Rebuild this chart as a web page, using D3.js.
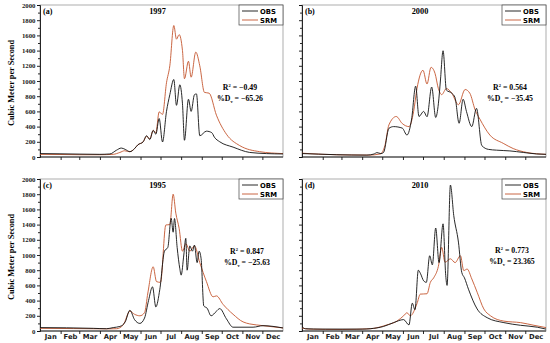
<!DOCTYPE html>
<html>
<head>
<meta charset="utf-8">
<script src="https://cdn.jsdelivr.net/npm/d3@7"></script>
<style>
  body { margin: 0; background: white; }
  .serif { font-family: "Liberation Serif", "Times New Roman", serif; font-weight: bold; }
  .sans { font-family: "DejaVu Sans", Verdana, sans-serif; font-weight: bold; }
</style>
</head>
<body>
<div id="chart"></div>
<script>
// month labels and lengths
const months = ["Jan", "Feb", "Mar", "Apr", "May", "Jun", "Jul", "Aug", "Sep", "Oct", "Nov", "Dec"];
const monthDays = [31, 28, 31, 30, 31, 30, 31, 31, 30, 31, 30, 31];
const yTicks = [0, 200, 400, 600, 800, 1000, 1200, 1400, 1600, 1800, 2000];

// [day of year, m3/s]
const obs1997 = [[0,45],[30,42],[60,38],[90,35],[105,40],[115,90],[122,118],[128,100],[135,70],[142,110],[147,160],[155,200],[160,280],[165,230],[170,350],[174,300],[179,506],[184,198],[190,600],[195,820],[201,1020],[205,680],[210,950],[214,700],[217,220],[223,760],[227,600],[232,820],[235,830],[240,280],[250,340],[258,320],[262,260],[270,200],[290,130],[315,60],[340,45],[365,40]];
const srm1997 = [[0,35],[30,33],[60,30],[90,30],[110,35],[120,60],[127,82],[135,70],[142,110],[147,160],[155,200],[160,270],[165,240],[170,350],[174,320],[179,594],[184,560],[190,977],[195,1200],[201,1730],[205,1550],[209,1610],[214,1400],[217,1030],[223,1260],[227,1050],[234,1380],[240,1200],[247,850],[254,840],[265,550],[280,300],[300,150],[330,70],[365,45]];

const obs2000 = [[0,45],[25,38],[52,30],[97,25],[108,40],[112,58],[118,45],[122,60],[130,377],[137,400],[150,380],[157,289],[164,500],[170,932],[175,533],[182,600],[187,530],[194,920],[200,520],[204,700],[207,1000],[211,1398],[216,880],[224,840],[229,780],[235,444],[241,760],[246,600],[254,400],[261,640],[269,150],[279,100],[291,90],[311,80],[331,60],[351,40],[365,35]];
const srm2000 = [[0,50],[30,35],[60,28],[100,25],[117,40],[124,150],[130,422],[141,533],[150,440],[160,400],[167,600],[172,900],[181,1141],[187,960],[193,1180],[199,1100],[204,900],[209,821],[216,900],[224,840],[234,688],[244,888],[251,840],[259,620],[266,500],[281,289],[301,180],[316,111],[336,60],[365,35]];

const obs1995 = [[0,45],[40,42],[80,35],[100,30],[110,45],[120,60],[128,120],[135,273],[142,150],[150,100],[157,170],[163,400],[169,581],[174,317],[180,550],[187,1052],[192,1100],[197,1483],[200,1300],[202,1480],[206,1100],[210,820],[212,735],[216,1000],[219,1219],[221,800],[225,1120],[229,1050],[232,1130],[236,900],[239,1050],[242,950],[246,330],[251,300],[257,200],[265,260],[270,295],[280,160],[290,50],[320,50],[335,70],[365,40]];
const srm1995 = [[0,35],[50,32],[100,28],[115,30],[125,80],[135,260],[142,220],[150,200],[157,240],[162,500],[170,845],[175,650],[181,640],[189,1395],[195,1400],[200,1800],[204,1550],[209,1350],[214,1050],[219,1150],[225,1050],[232,1120],[240,900],[250,650],[260,450],[265,462],[275,350],[290,220],[305,120],[325,80],[335,70],[365,40]];

const obs2010 = [[0,57],[5,30],[30,25],[90,25],[102,30],[122,60],[137,110],[152,150],[160,80],[165,366],[169,280],[174,800],[177,760],[182,660],[186,640],[191,990],[195,870],[200,1355],[205,900],[211,1410],[215,730],[217,600],[222,1920],[227,1520],[234,1170],[239,770],[243,700],[249,550],[262,290],[277,175],[302,110],[327,75],[352,50],[365,25]];
const srm2010 = [[0,40],[10,25],[60,20],[102,30],[127,80],[142,130],[152,200],[157,240],[162,200],[172,360],[177,485],[187,490],[192,640],[197,700],[204,850],[209,1100],[214,905],[222,950],[229,900],[237,990],[242,795],[247,815],[254,685],[262,510],[272,290],[282,200],[302,130],[327,110],[347,75],[365,45]];

const panelLabels = ["(a)", "(b)", "(c)", "(d)"];
const panelYears = ["1997", "2000", "1995", "2010"];
const r2Values = ["\u22120.49", "0.564", "0.847", "0.773"];
const dvValues = ["\u221265.26", "\u221235.45", "\u221225.63", "23.365"];

const obsColor = "#111111";
const srmColor = "#c4562f";

const width = 550;
const height = 343;

const svg = d3.select("#chart")
    .append("svg")
    .attr("width", width)
    .attr("height", height);

// month boundaries and centres
let monthStart = [0];
for (let d of monthDays) monthStart.push(monthStart[monthStart.length - 1] + d);
let monthMid = months.map((m, i) => (monthStart[i] + monthStart[i + 1]) / 2);

const panels = [
    {obs: obs1997, srm: srm1997, left: 40, right: 283, top: 5, bottom: 157, yLabels: true, xLabels: false, noteX: 240, noteY: 90},
    {obs: obs2000, srm: srm2000, left: 302, right: 546, top: 5, bottom: 157, yLabels: false, xLabels: false, noteX: 510, noteY: 90},
    {obs: obs1995, srm: srm1995, left: 40, right: 283, top: 179, bottom: 331, yLabels: true, xLabels: true, noteX: 247, noteY: 254},
    {obs: obs2010, srm: srm2010, left: 302, right: 546, top: 179, bottom: 331, yLabels: false, xLabels: true, noteX: 512, noteY: 253}
];

panels.forEach((p, i) => {
    let x = d3.scaleLinear([0, 365], [p.left, p.right]);
    let y = d3.scaleLinear([0, 2000], [p.bottom, p.top]);
    let g = svg.append("g");

    // frame
    g.append("rect")
        .attr("x", p.left)
        .attr("y", p.top)
        .attr("width", p.right - p.left)
        .attr("height", p.bottom - p.top)
        .attr("fill", "none")
        .attr("stroke", "#9a9a9a")
        .attr("stroke-width", 0.8);

    // minor y ticks
    g.append("g")
        .attr("transform", `translate(${p.left},0)`)
        .call(d3.axisLeft(y).tickValues(d3.range(100, 2000, 200)).tickSize(2).tickFormat(""))
        .call(a => a.select(".domain").remove());

    let yAxis = g.append("g")
        .attr("transform", `translate(${p.left},0)`)
        .call(d3.axisLeft(y).tickValues(yTicks).tickSize(3).tickPadding(1.5)
            .tickFormat(p.yLabels ? d3.format("d") : ""));
    yAxis.selectAll("text")
        .attr("class", "serif")
        .style("font-size", "6.8px")
        .attr("fill", "#222");

    // month ticks
    let xAxis = g.append("g")
        .attr("transform", `translate(0,${p.bottom})`)
        .call(d3.axisBottom(x).tickValues(monthStart.slice(1, 12)).tickSize(3).tickFormat(""));
    xAxis.select(".domain").attr("d", `M${p.left},0H${p.right}`);

    if (p.xLabels) {
        g.append("g")
            .attr("transform", `translate(0,${p.bottom})`)
            .call(d3.axisBottom(x).tickValues(monthMid).tickSize(0).tickPadding(3)
                .tickFormat((d, k) => months[k]))
            .call(a => a.select(".domain").remove())
            .selectAll("text")
            .attr("class", "sans")
            .style("font-size", "6.8px")
            .attr("fill", "#222");
    }

    g.selectAll(".domain, .tick line").attr("stroke", "#111").attr("stroke-width", 0.9);

    let line = d3.line()
        .x(d => x(d[0]))
        .y(d => y(d[1]))
        .curve(d3.curveMonotoneX);

    g.append("path")
        .datum(p.srm)
        .attr("d", line)
        .attr("fill", "none")
        .attr("stroke", srmColor)
        .attr("stroke-width", 0.9);

    g.append("path")
        .datum(p.obs)
        .attr("d", line)
        .attr("fill", "none")
        .attr("stroke", obsColor)
        .attr("stroke-width", 0.9);

    // panel letter and year
    g.append("text")
        .attr("class", "serif")
        .attr("x", p.left + 3)
        .attr("y", p.top + 9)
        .style("font-size", "8px")
        .text(panelLabels[i]);

    g.append("text")
        .attr("class", "serif")
        .attr("x", (p.left + p.right) / 2 - 4)
        .attr("y", p.top + 9)
        .attr("text-anchor", "middle")
        .style("font-size", "8.3px")
        .text(panelYears[i]);

    // legend
    let lg = g.append("g").attr("transform", `translate(${p.right - 44},${p.top})`);
    lg.append("rect")
        .attr("width", 44)
        .attr("height", 20)
        .attr("fill", "white")
        .attr("stroke", "#444")
        .attr("stroke-width", 0.7);
    [["OBS", obsColor], ["SRM", srmColor]].forEach((s, k) => {
        lg.append("line")
            .attr("x1", 3).attr("x2", 19)
            .attr("y1", 6 + k * 9).attr("y2", 6 + k * 9)
            .attr("stroke", s[1])
            .attr("stroke-width", 0.9);
        lg.append("text")
            .attr("class", "sans")
            .attr("x", 21)
            .attr("y", 8.5 + k * 9)
            .style("font-size", "6.8px")
            .text(s[0]);
    });

    // statistics
    let t1 = g.append("text")
        .attr("class", "serif")
        .attr("x", p.noteX)
        .attr("y", p.noteY)
        .attr("text-anchor", "middle")
        .style("font-size", "7.8px");
    t1.append("tspan").text("R");
    t1.append("tspan").attr("dy", -3).style("font-size", "4.5px").text("2");
    t1.append("tspan").attr("dy", 3).text(" = " + r2Values[i]);

    let t2 = g.append("text")
        .attr("class", "serif")
        .attr("x", p.noteX)
        .attr("y", p.noteY + 11)
        .attr("text-anchor", "middle")
        .style("font-size", "7.8px");
    t2.append("tspan").text("%D");
    t2.append("tspan").attr("dy", 2).style("font-size", "4.5px").text("v");
    t2.append("tspan").attr("dy", -2).text(" = " + dvValues[i]);

    if (p.yLabels) {
        g.append("text")
            .attr("class", "serif")
            .attr("transform", `translate(14,${(p.top + p.bottom) / 2 + 2}) rotate(-90)`)
            .attr("text-anchor", "middle")
            .style("font-size", "8.3px")
            .text("Cubic Meter per Second");
    }
});
</script>
</body>
</html>
